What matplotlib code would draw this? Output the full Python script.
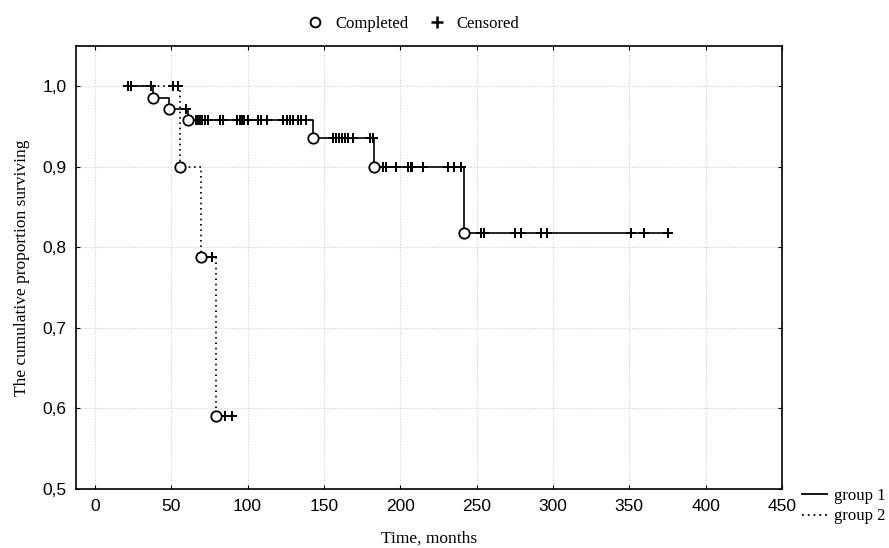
import numpy as np
import matplotlib
matplotlib.use("Agg")
import matplotlib.pyplot as plt
from matplotlib.lines import Line2D
from matplotlib.ticker import FuncFormatter

# group 1 (solid)
g1_start = 22
g1_end = 375
g1_event_t = [38, 48.7, 61, 143.2, 183, 242]
g1_event_s = [0.986, 0.972, 0.958, 0.936, 0.900, 0.818]
g1_cens_t = [22, 24, 37, 60, 66, 67.5, 69, 70.5, 72, 74, 82, 84, 93, 95, 96.5,
             98, 100, 107, 109, 113, 123, 126, 128, 130, 133, 135, 138, 156,
             158, 160, 162, 164, 166, 169, 180, 182, 189, 191, 197, 205, 207,
             208, 215, 231.5, 235, 239.5, 252.7, 254.6, 275.4, 278.8, 292, 296,
             351, 359.5, 375]

# group 2 (dotted)
g2_start = 24
g2_end = 89.7
g2_event_t = [56, 69.7, 79.5]
g2_event_s = [0.900, 0.7875, 0.5906]
g2_cens_t = [51, 54.6, 76.7, 85.4, 89.7]

xticks = [0, 50, 100, 150, 200, 250, 300, 350, 400, 450]
yticks = [0.5, 0.6, 0.7, 0.8, 0.9, 1.0]


def level_at(t, ev_t, ev_s):
    idx = np.searchsorted(ev_t, t, side="right")
    return 1.0 if idx == 0 else ev_s[idx - 1]


fig = plt.figure(figsize=(8.89, 5.48), dpi=100)
ax = fig.add_axes([0.0855, 0.1077, 0.7942, 0.8083])

for start, end, ev_t, ev_s, cens_t, ls in [
        (g1_start, g1_end, g1_event_t, g1_event_s, g1_cens_t, "-"),
        (g2_start, g2_end, g2_event_t, g2_event_s, g2_cens_t, (0, (1, 2.2)))]:
    xs = [start] + ev_t + [end]
    ys = [1.0] + ev_s + [ev_s[-1]]
    ax.step(xs, ys, where="post", color="black", lw=1.2, ls=ls, zorder=3)
    cy = [level_at(t, ev_t, ev_s) for t in cens_t]
    ax.plot(cens_t, cy, ls="none", marker="+", ms=6.5, mew=1.4, color="black", zorder=4)
    ax.plot(ev_t, ev_s, ls="none", marker="o", ms=7.5, mfc="white", mec="black",
            mew=1.3, zorder=5)

ax.set_xlim(-12.3, 450)
ax.set_ylim(0.5, 1.05)
ax.set_xticks(xticks)
ax.set_yticks(yticks)
ax.yaxis.set_major_formatter(FuncFormatter(lambda v, p: f"{v:.1f}".replace(".", ",")))
ax.grid(True, color="#cfcfcf", ls=(0, (1, 1.5)), lw=0.8)
ax.tick_params(direction="in", length=3, width=0.8, top=True, right=True,
               labelsize=12.5, pad=7)
for lab in ax.get_xticklabels() + ax.get_yticklabels():
    lab.set_fontfamily("Liberation Sans")
for sp in ax.spines.values():
    sp.set_linewidth(1.2)

ax.set_xlabel("Time, months", family="Liberation Serif", fontsize=12.5, labelpad=12)
ax.set_ylabel("The cumulative proportion surviving", family="Liberation Serif",
              fontsize=12.5, labelpad=9)

top_handles = [
    Line2D([], [], ls="none", marker="o", ms=7, mfc="white", mec="black", mew=1.4),
    Line2D([], [], ls="none", marker="+", ms=8, mew=1.8, color="black"),
]
fig.legend(top_handles, ["Completed", "Censored"], loc="center",
           bbox_to_anchor=(409 / 889, 1 - 24 / 548), ncol=2, frameon=False,
           prop={"family": "Liberation Serif", "size": 12}, handletextpad=0.2,
           columnspacing=0.7)

grp_handles = [
    Line2D([], [], color="black", lw=1.3),
    Line2D([], [], color="black", lw=1.3, ls=(0, (1, 2.2))),
]
fig.legend(grp_handles, ["group 1", "group 2"], loc="center left",
           bbox_to_anchor=(799 / 889, 1 - 506 / 548), frameon=False,
           prop={"family": "Liberation Serif", "size": 12}, handlelength=1.45,
           handletextpad=0.45, labelspacing=0.3, borderpad=0.2, borderaxespad=0)

fig.savefig("out.png", dpi=100)
